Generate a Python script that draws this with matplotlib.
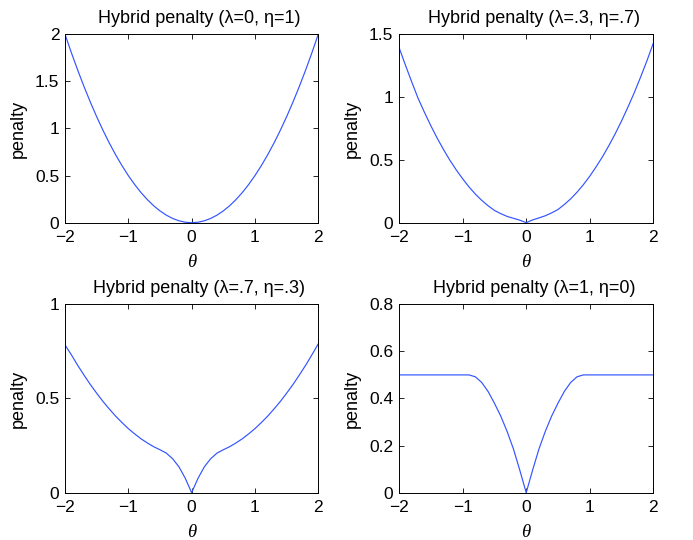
import matplotlib
matplotlib.use("Agg")
import matplotlib.pyplot as plt

plt.rcParams['font.family'] = ['Liberation Sans', 'DejaVu Sans']

theta = [-2.0, -1.9, -1.8, -1.7, -1.6, -1.5, -1.4, -1.3, -1.2, -1.1,
         -1.0, -0.9, -0.8, -0.7, -0.6, -0.5, -0.4, -0.3, -0.2, -0.1,
         0.0, 0.1, 0.2, 0.3, 0.4, 0.5, 0.6, 0.7, 0.8, 0.9,
         1.0, 1.1, 1.2, 1.3, 1.4, 1.5, 1.6, 1.7, 1.8, 1.9, 2.0]

pen_l0_e1 = [2.0, 1.805, 1.62, 1.445, 1.28, 1.125, 0.98, 0.845, 0.72, 0.605,
             0.5, 0.405, 0.32, 0.245, 0.18, 0.125, 0.08, 0.045, 0.02, 0.005,
             0.0, 0.005, 0.02, 0.045, 0.08, 0.125, 0.18, 0.245, 0.32, 0.405,
             0.5, 0.605, 0.72, 0.845, 0.98, 1.125, 1.28, 1.445, 1.62, 1.805, 2.0]

pen_l3_e7 = [1.395, 1.255, 1.12, 0.99, 0.878, 0.772, 0.673, 0.582, 0.497, 0.42,
             0.35, 0.285, 0.228, 0.178, 0.135, 0.098, 0.072, 0.05, 0.035, 0.02,
             0.0, 0.022, 0.038, 0.055, 0.078, 0.105, 0.145, 0.19, 0.243, 0.303,
             0.37, 0.445, 0.525, 0.613, 0.708, 0.81, 0.92, 1.035, 1.16, 1.29, 1.43]

pen_l7_e3 = [0.784, 0.732, 0.676, 0.624, 0.574, 0.528, 0.484, 0.444, 0.406, 0.372,
             0.34, 0.312, 0.286, 0.264, 0.244, 0.228, 0.21, 0.18, 0.137, 0.076,
             0.0, 0.076, 0.137, 0.18, 0.21, 0.228, 0.244, 0.264, 0.286, 0.312,
             0.34, 0.372, 0.406, 0.444, 0.484, 0.528, 0.574, 0.624, 0.676, 0.732, 0.79]

pen_l1_e0 = [0.5, 0.5, 0.5, 0.5, 0.5, 0.5, 0.5, 0.5, 0.5, 0.5,
             0.5, 0.5, 0.492, 0.468, 0.43, 0.38, 0.325, 0.26, 0.185, 0.095,
             0.0, 0.095, 0.185, 0.26, 0.325, 0.38, 0.43, 0.468, 0.492, 0.5,
             0.5, 0.5, 0.5, 0.5, 0.5, 0.5, 0.5, 0.5, 0.5, 0.5, 0.5]

titles = ['Hybrid penalty (\u03bb=0, \u03b7=1)', 'Hybrid penalty (\u03bb=.3, \u03b7=.7)',
          'Hybrid penalty (\u03bb=.7, \u03b7=.3)', 'Hybrid penalty (\u03bb=1, \u03b7=0)']
series = [pen_l0_e1, pen_l3_e7, pen_l7_e3, pen_l1_e0]
ylims = [(0, 2), (0, 1.5), (0, 1), (0, 0.8)]
yticks = [[0, 0.5, 1, 1.5, 2], [0, 0.5, 1, 1.5], [0, 0.5, 1], [0, 0.2, 0.4, 0.6, 0.8]]
yticklabels = [['0', '0.5', '1', '1.5', '2'], ['0', '0.5', '1', '1.5'],
               ['0', '0.5', '1'], ['0', '0.2', '0.4', '0.6', '0.8']]
xticks = [-2, -1, 0, 1, 2]
xticklabels = ['\u22122', '\u22121', '0', '1', '2']

fig = plt.figure(figsize=(6.93, 5.40), dpi=100)
positions = [
    [0.0938, 0.5876, 0.3655, 0.349],
    [0.5758, 0.5876, 0.367, 0.349],
    [0.0938, 0.0876, 0.3655, 0.349],
    [0.5758, 0.0876, 0.367, 0.349],
]

for pos, t, y, yl, yt, ytl in zip(positions, titles, series, ylims, yticks, yticklabels):
    ax = fig.add_axes(pos)
    ax.plot(theta, y, color=(0.2, 0.33, 1.0), linewidth=0.85)
    ax.set_xlim(-2, 2)
    ax.set_ylim(*yl)
    ax.set_xticks(xticks)
    ax.set_xticklabels(xticklabels)
    ax.set_yticks(yt)
    ax.set_yticklabels(ytl)
    ax.tick_params(direction='in', top=True, right=True, length=3.5, width=0.6,
                   labelsize=12.5, pad=4)
    ax.tick_params(axis='x', pad=5)
    for s in ax.spines.values():
        s.set_linewidth(0.7)
    ax.set_title(t, fontsize=13, pad=8, x=0.53)
    ax.set_ylabel('penalty', fontsize=13, labelpad=6)
    ax.set_xlabel('\u03b8', fontsize=13.5, family='Liberation Serif', style='italic', labelpad=7)

fig.savefig('out.png', dpi=100)
